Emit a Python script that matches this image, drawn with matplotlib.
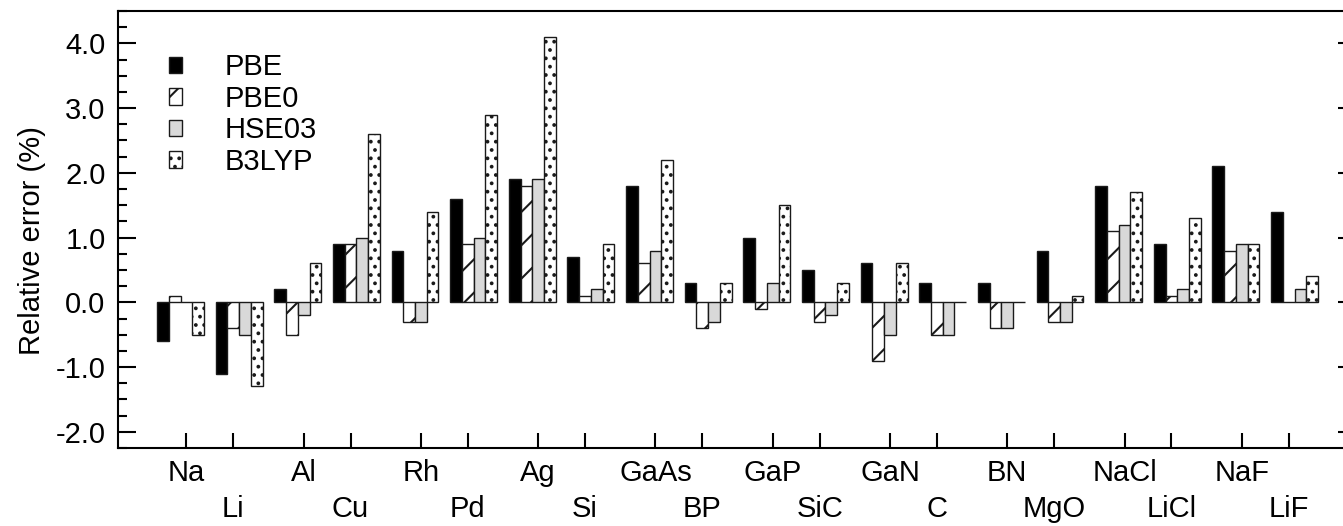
import numpy as np
import matplotlib
matplotlib.use("Agg")
import matplotlib.pyplot as plt
from matplotlib.patches import Patch

plt.rcParams['font.family'] = ['Liberation Sans', 'DejaVu Sans']
plt.rcParams['axes.unicode_minus'] = False
plt.rcParams['hatch.linewidth'] = 1.5

# relative error of the lattice constant (%) per solid
solids = ["Na", "Li", "Al", "Cu", "Rh", "Pd", "Ag", "Si", "GaAs", "BP",
          "GaP", "SiC", "GaN", "C", "BN", "MgO", "NaCl", "LiCl", "NaF", "LiF"]
pbe = [-0.6, -1.1, 0.2, 0.9, 0.8, 1.6, 1.9, 0.7, 1.8, 0.3,
       1.0, 0.5, 0.6, 0.3, 0.3, 0.8, 1.8, 0.9, 2.1, 1.4]
pbe0 = [0.1, -0.4, -0.5, 0.9, -0.3, 0.9, 1.8, 0.1, 0.6, -0.4,
        -0.1, -0.3, -0.9, -0.5, -0.4, -0.3, 1.1, 0.1, 0.8, 0.0]
hse03 = [0.0, -0.5, -0.2, 1.0, -0.3, 1.0, 1.9, 0.2, 0.8, -0.3,
         0.3, -0.2, -0.5, -0.5, -0.4, -0.3, 1.2, 0.2, 0.9, 0.2]
b3lyp = [-0.5, -1.3, 0.6, 2.6, 1.4, 2.9, 4.1, 0.9, 2.2, 0.3,
         1.5, 0.3, 0.6, 0.0, 0.0, 0.1, 1.7, 1.3, 0.9, 0.4]

series = [
    ("PBE", pbe, dict(facecolor="black", hatch=None)),
    ("PBE0", pbe0, dict(facecolor="white", hatch="/")),
    ("HSE03", hse03, dict(facecolor="#d9d9d9", hatch=None)),
    ("B3LYP", b3lyp, dict(facecolor="white", hatch="..")),
]

edge = "#1a1a1a"
fs = 21

fig = plt.figure(figsize=(13.43, 5.26), dpi=100)
ax = fig.add_axes([118 / 1343, 78 / 526, (1345 - 118) / 1343, (448 - 11) / 526])

x = np.arange(len(solids))
width = 0.2
handles = []
for k, (name, vals, st) in enumerate(series):
    ax.bar(x + (k - 1.5) * width, vals, width, edgecolor=edge, linewidth=1.0, **st)
    handles.append(Patch(edgecolor=edge, linewidth=1.0, label=name, **st))

ax.set_xlim(-1.066, 19.86)
ax.set_ylim(-2.25, 4.5)

# y axis
ax.set_yticks(np.arange(-2, 5, 1.0))
ax.set_yticks(np.arange(-2.25, 4.51, 0.25), minor=True)
ax.set_yticklabels([f"{v:.1f}" for v in np.arange(-2, 5, 1.0)], fontsize=fs)
ax.tick_params(axis="y", which="major", direction="in", length=13, width=1.5, pad=9)
ax.tick_params(axis="y", which="minor", direction="in", length=6.5, width=1.5)
ax.set_ylabel("Relative error (%)", fontsize=fs)
ax.yaxis.set_label_coords(-0.059, 0.475)

# x axis: even solids on the first label row (major), odd ones on the second (minor)
even = x[x % 2 == 0]
odd = x[x % 2 == 1]
ax.xaxis.set_major_locator(matplotlib.ticker.FixedLocator(even + 0.1))
ax.xaxis.set_minor_locator(matplotlib.ticker.FixedLocator(odd - 0.1))
ax.set_xticklabels([solids[i] for i in even], fontsize=fs)
ax.set_xticklabels([solids[i] for i in odd], minor=True, fontsize=fs)
ax.tick_params(axis="x", which="major", direction="in", length=11, width=1.5, pad=8)
ax.tick_params(axis="x", which="minor", direction="in", length=11, width=1.5, pad=34)

sec = ax.secondary_yaxis("right")
sec.set_yticks(np.arange(-2, 5, 1.0))
sec.tick_params(direction="in", length=5, width=1.5, labelright=False)
sec.spines["right"].set_linewidth(1.5)

for sp in ax.spines.values():
    sp.set_linewidth(1.5)

ax.legend(handles=handles, loc="upper left", bbox_to_anchor=(0.032, 0.93),
          frameon=False, fontsize=fs, handlelength=0.45, handleheight=0.5,
          handletextpad=1.45, labelspacing=0.12, borderaxespad=0)

fig.savefig("out.png", dpi=100)
